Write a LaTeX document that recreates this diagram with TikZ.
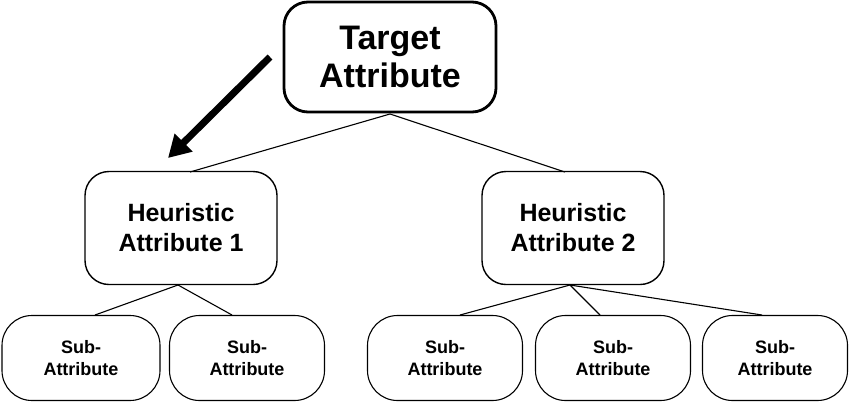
\documentclass[tikz,border=0pt]{standalone}
\usepackage{fontspec}
\setmainfont{Liberation Sans}
\usetikzlibrary{arrows.meta}
\begin{document}
\begin{tikzpicture}[x=1pt,y=-1pt,
 box/.style={draw,line width=1.4pt,rounded corners=24pt,align=center,font=\bfseries,inner sep=0pt},
 sub/.style={draw,line width=1.1pt,rounded corners=30pt,align=center,font=\bfseries\fontsize{18}{22}\selectfont,minimum width=155,minimum height=85,inner sep=0pt},
 link/.style={line width=1.1pt}]
\useasboundingbox (0,0) rectangle (850,413);
\node[box,line width=2.8pt,minimum width=212,minimum height=110,font=\bfseries\fontsize{34}{38}\selectfont] (t) at (390,57) {Target\\Attribute};
\node[box,minimum width=192,minimum height=113,font=\bfseries\fontsize{25}{30}\selectfont] (h1) at (181,228) {Heuristic\\Attribute 1};
\node[box,minimum width=182,minimum height=113,font=\bfseries\fontsize{25}{30}\selectfont] (h2) at (573,228) {Heuristic\\Attribute 2};
\node[sub,minimum width=158] (s1) at (81,358) {Sub-\\Attribute};
\node[sub] (s2) at (247,358) {Sub-\\Attribute};
\node[sub] (s3) at (445,358) {Sub-\\Attribute};
\node[sub] (s4) at (613,358) {Sub-\\Attribute};
\node[sub,minimum width=145] (s5) at (775,358) {Sub-\\Attribute};
\coordinate (tb) at (390,114);
\draw[link] (tb) -- (190,172);
\draw[link] (tb) -- (565,172);
\coordinate (h1b) at (178,285);
\draw[link] (h1b) -- (95,315);
\draw[link] (h1b) -- (232,315);
\coordinate (h2b) at (570,285);
\draw[link] (h2b) -- (460,315);
\draw[link] (h2b) -- (600,315);
\draw[link] (h2b) -- (762,315);
\coordinate (a1) at (270,57);
\coordinate (a2) at (168,158);
\draw[line width=7pt,-{Triangle[length=22pt,width=24pt]}] (a1) -- (a2);
\end{tikzpicture}
\end{document}
